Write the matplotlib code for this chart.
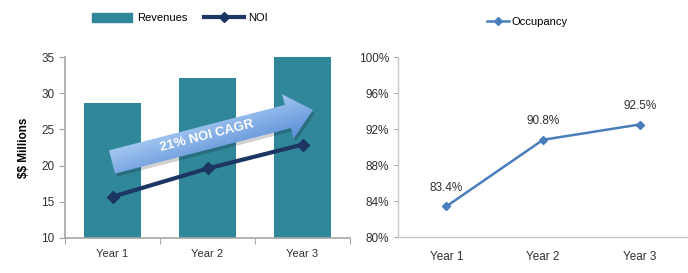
import matplotlib.pyplot as plt
import numpy as np
from matplotlib.patches import Polygon
from matplotlib.lines import Line2D
from matplotlib.patches import Patch
from matplotlib.colors import LinearSegmentedColormap

years = ['Year 1', 'Year 2', 'Year 3']
revenues = [28.6, 32.1, 35.0]
noi = [15.7, 19.6, 22.9]
occupancy = [83.4, 90.8, 92.5]
occ_labels = ['83.4%', '90.8%', '92.5%']
left_yticks = [10, 15, 20, 25, 30, 35]
right_yticks = [80, 84, 88, 92, 96, 100]

plt.rcParams['font.family'] = ['Liberation Sans', 'DejaVu Sans']
plt.rcParams['text.parse_math'] = False

W, H = 688, 273
fig = plt.figure(figsize=(W / 100, H / 100), dpi=100)


def px_axes(l, t, r, b):
    return fig.add_axes([l / W, 1 - b / H, (r - l) / W, (b - t) / H])


bar_col = '#31879A'
noi_col = '#1C3664'
occ_col = '#4A7EBB'
axis_col = '#A6A6A6'

# left chart: revenues + NOI
ax1 = px_axes(65, 57, 350, 238)
x = np.arange(len(years))
ax1.bar(x, revenues, width=0.61, color=bar_col, zorder=2)
ax1.plot(x, noi, color=noi_col, lw=3, marker='D', ms=6, zorder=3)
ax1.set_ylim(10, 35)
ax1.set_xlim(-0.5, 2.5)
ax1.set_yticks(left_yticks)
ax1.set_xticks([-0.5, 0.5, 1.5, 2.5], minor=False)
ax1.set_xticklabels([])
ax1.set_xticks(x, minor=True)
ax1.set_xticklabels(years, minor=True)
ax1.tick_params(axis='x', which='minor', length=0, pad=8, labelsize=8, colors='#303030')
ax1.tick_params(axis='x', which='major', length=4, color=axis_col)
ax1.tick_params(axis='y', length=4, color=axis_col, labelsize=8.5, labelcolor='#303030')
for s in ['top', 'right']:
    ax1.spines[s].set_visible(False)
for s in ['left', 'bottom']:
    ax1.spines[s].set_color(axis_col)
    ax1.spines[s].set_linewidth(1.2)
ax1.set_ylabel('$$ Millions', fontsize=8.5, fontweight='bold', labelpad=8)

fig.legend(handles=[Patch(color=bar_col, label='Revenues'),
                    Line2D([], [], color=noi_col, lw=3, marker='D', ms=5, label='NOI')],
           loc='center', bbox_to_anchor=(180 / W, 1 - 18 / H), ncol=2, frameon=False,
           fontsize=8, handlelength=3.6, handleheight=0.9, columnspacing=1.5, handletextpad=0.4)

# right chart: occupancy
ax2 = px_axes(398, 57, 688, 237)
ax2.plot(x, occupancy, color=occ_col, lw=1.8, marker='D', ms=4.5)
for xi, v, lab in zip(x, occupancy, occ_labels):
    ax2.annotate(lab, (xi, v), xytext=(0, 9), textcoords='offset points',
                 ha='center', va='bottom', fontsize=8.5, color='#303030')
ax2.set_ylim(80, 100)
ax2.set_xlim(-0.5, 2.5)
ax2.set_yticks(right_yticks)
ax2.set_yticklabels([f'{v}%' for v in right_yticks])
ax2.set_xticks(x)
ax2.set_xticklabels(years)
ax2.tick_params(axis='x', length=0, pad=10, labelsize=8.5, labelcolor='#303030')
ax2.tick_params(axis='y', length=3, color=axis_col, labelsize=8.5, labelcolor='#303030')
for s in ['top', 'right']:
    ax2.spines[s].set_visible(False)
for s in ['left', 'bottom']:
    ax2.spines[s].set_color('#C8C8C8')
    ax2.spines[s].set_linewidth(1.0)

fig.legend(handles=[Line2D([], [], color=occ_col, lw=1.8, marker='D', ms=4, label='Occupancy')],
           loc='center', bbox_to_anchor=(527 / W, 1 - 22 / H), frameon=False,
           fontsize=8, handlelength=2.0, handletextpad=0.2)

# CAGR arrow overlay in pixel coordinates
ov = fig.add_axes([0, 0, 1, 1], zorder=5)
ov.axis('off')
ov.patch.set_alpha(0)

tail = np.array([112.0, 162.0])
tip = np.array([313.0, 110.0])
d = tip - tail
u = d / np.hypot(*d)
n = np.array([u[1], -u[0]])  # points "up" on screen
shaft_w, head_w, head_l = 24, 46, 26
base = tip - u * head_l
pts = [tail + n * shaft_w / 2, base + n * shaft_w / 2, base + n * head_w / 2, tip,
       base - n * head_w / 2, base - n * shaft_w / 2, tail - n * shaft_w / 2]
shadow = Polygon(np.array(pts) + [2, 3], closed=True, fc='#000000', alpha=0.18, ec='none')
ov.add_patch(shadow)
arrow = Polygon(pts, closed=True, fc='none', ec='none')
ov.add_patch(arrow)

# gradient across the arrow: lighter on upper edge, darker below
x0, x1, y0, y1 = 100, 330, 85, 190
gx, gy = np.meshgrid(np.linspace(x0, x1, 240), np.linspace(y0, y1, 120))
mid = (tail + tip) / 2
proj = (gx - mid[0]) * n[0] + (gy - mid[1]) * n[1]
along = (gx - mid[0]) * u[0] + (gy - mid[1]) * u[1]
val = np.clip(0.5 - proj / 45 + along / 700, 0, 1)
cmap = LinearSegmentedColormap.from_list('arr', ['#A9CBF3', '#6394DA'])
im = ov.imshow(val, cmap=cmap, extent=[x0, x1, y1, y0], aspect='auto', origin='upper', zorder=6)
im.set_clip_path(arrow)
ov.set_xlim(0, W)
ov.set_ylim(H, 0)
ang = np.degrees(np.arctan2(-d[1], d[0]))
ov.text(207, 136, '21% NOI CAGR', rotation=ang, color='white', fontsize=9.5, fontweight='bold',
        ha='center', va='center', zorder=7, rotation_mode='anchor')

fig.savefig('out.png', dpi=100)
